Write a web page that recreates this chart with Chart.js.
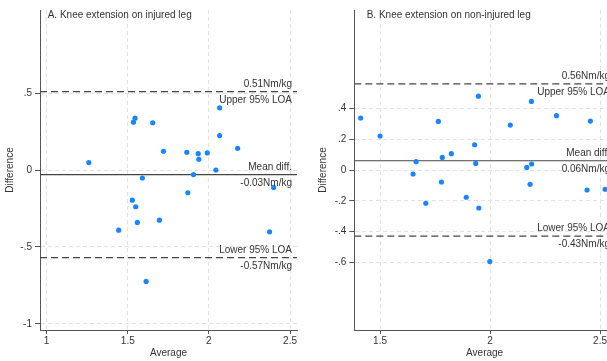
<!DOCTYPE html>
<html>
<head>
<meta charset="utf-8">
<script src="https://cdn.jsdelivr.net/npm/chart.js@4.4.1/dist/chart.umd.min.js"></script>
<style>
    html, body { margin: 0; padding: 0; background: #fff; overflow: hidden; width: 607px; height: 361px; }
    #wrap-a { position: absolute; left: 0; top: 0; width: 303px; height: 361px; }
    #wrap-b { position: absolute; left: 300px; top: 0; width: 322px; height: 361px; }
</style>
</head>
<body>
<div id="wrap-a"><canvas id="chart-a" width="303" height="361"></canvas></div>
<div id="wrap-b"><canvas id="chart-b" width="322" height="361"></canvas></div>
<script>
// A. injured leg
const injuredAvg  = [1.26, 1.535, 1.545, 1.654, 1.72, 1.864, 1.934, 1.938, 1.99, 2.066, 2.066, 2.177, 2.043, 1.905, 1.59,
                     2.399, 1.87, 1.528, 1.549, 1.559, 1.695, 1.444, 2.374, 1.613];
const injuredDiff = [0.048, 0.311, 0.337, 0.307, 0.122, 0.115, 0.106, 0.07, 0.111, 0.404, 0.224, 0.141, 0.0, -0.03, -0.052,
                     -0.113, -0.148, -0.196, -0.239, -0.341, -0.326, -0.391, -0.402, -0.724];
const injuredLimits = [0.51, -0.03, -0.57];
const injuredXTicks = [1, 1.5, 2, 2.5];
const injuredYTicks = [-1, -0.5, 0, 0.5];

// B. non-injured leg
const nonInjuredAvg  = [1.412, 1.5, 1.664, 1.65, 1.765, 1.783, 1.824, 1.93, 1.935, 1.947, 2.092, 2.188, 2.167, 2.189, 2.302, 2.456,
                        1.779, 1.708, 1.892, 1.949, 2.182, 2.441, 2.523, 1.999];
const nonInjuredDiff = [0.338, 0.221, 0.054, -0.026, 0.316, 0.082, 0.106, 0.164, 0.043, 0.48, 0.292, 0.446, 0.017, 0.039, 0.353, 0.318,
                        -0.078, -0.216, -0.177, -0.247, -0.093, -0.13, -0.125, -0.595];
const nonInjuredLimits = [0.56, 0.06, -0.43];
const nonInjuredXTicks = [1.5, 2, 2.5];
const nonInjuredYTicks = [-0.6, -0.4, -0.2, 0, 0.2, 0.4];

const family = "'Liberation Sans', Arial, sans-serif";
const textColor = "#333";
const axisColor = "#555";
const pointColor = "#1a85ff";

function fmt(v) {
    if (v === 0) return "0";
    return String(v).replace(/^(-?)0\./, "$1.");
}

function nm(v) {
    return v.toFixed(2) + "Nm/kg";
}

const labelPlugin = {
    id: "loaLabels",
    afterDatasetsDraw(chart, args, opts) {
        const { ctx, chartArea, scales } = chart;
        ctx.save();
        ctx.font = "10px " + family;
        ctx.fillStyle = textColor;
        ctx.textBaseline = "middle";
        ctx.textAlign = "left";
        ctx.fillText(opts.title, chartArea.left + opts.titleOffset, chartArea.top + 5);
        ctx.textAlign = "right";
        const xr = chartArea.right - 5;
        const above = [nm(opts.limits[0]), "Mean diff.", "Lower 95% LOA"];
        const below = ["Upper 95% LOA", nm(opts.limits[1]), nm(opts.limits[2])];
        opts.limits.forEach((v, i) => {
            const y = scales.y.getPixelForValue(v);
            ctx.fillText(above[i], xr, y - 7.5);
            ctx.fillText(below[i], xr, y + 8.5);
        });
        ctx.restore();
    }
};

function limitLine(v, xMin, xMax, dashed) {
    return {
        data: [{ x: xMin, y: v }, { x: xMax, y: v }],
        showLine: true,
        borderColor: "#444",
        borderWidth: 1.2,
        borderDash: dashed ? [7, 4] : [],
        pointRadius: 0,
        order: 1
    };
}

function buildChart(id, cfg) {
    const ctx = document.getElementById(id).getContext("2d");
    return new Chart(ctx, {
        type: "scatter",
        data: {
            datasets: [
                {
                    data: cfg.avg.map((a, i) => ({ x: a, y: cfg.diff[i] })),
                    backgroundColor: pointColor,
                    borderWidth: 0,
                    pointRadius: 2.6,
                    order: 0
                },
                limitLine(cfg.limits[0], cfg.xMin, cfg.xMax, true),
                limitLine(cfg.limits[1], cfg.xMin, cfg.xMax, false),
                limitLine(cfg.limits[2], cfg.xMin, cfg.xMax, true)
            ]
        },
        options: {
            responsive: false,
            animation: false,
            layout: { padding: { top: 10, right: cfg.padRight, left: cfg.padLeft, bottom: 0 } },
            plugins: {
                legend: { display: false },
                tooltip: { enabled: false },
                loaLabels: { title: cfg.title, titleOffset: cfg.titleOffset, limits: cfg.limits }
            },
            scales: {
                x: {
                    type: "linear",
                    min: cfg.xMin,
                    max: cfg.xMax,
                    afterBuildTicks: ax => { ax.ticks = cfg.xTicks.map(v => ({ value: v })); },
                    afterFit: ax => { ax.height = 31; },
                    grid: { color: "#e2e2e2", lineWidth: 1, tickColor: axisColor, tickLength: 4, tickBorderDash: [] },
                    border: { display: true, color: axisColor, width: 1, dash: [4, 3] },
                    ticks: { color: textColor, font: { size: 10, family }, padding: 1, maxRotation: 0, autoSkip: false, callback: v => fmt(v) },
                    title: { display: true, text: "Average", color: textColor, font: { size: 10, family }, padding: { top: 0, bottom: 2 } }
                },
                y: {
                    type: "linear",
                    min: -1.04,
                    max: 1.04,
                    afterBuildTicks: ax => { ax.ticks = cfg.yTicks.map(v => ({ value: v })); },
                    afterFit: ax => { ax.width = cfg.yWidth; },
                    grid: { color: "#e2e2e2", lineWidth: 1, tickColor: axisColor, tickLength: 5, tickBorderDash: [] },
                    border: { display: true, color: axisColor, width: 1, dash: [4, 3] },
                    ticks: { color: textColor, font: { size: 10, family }, padding: 3, autoSkip: false, callback: v => fmt(v) },
                    title: { display: true, text: "Difference", color: textColor, font: { size: 10, family }, padding: { top: 4, bottom: 4 } }
                }
            }
        },
        plugins: [labelPlugin]
    });
}

buildChart("chart-a", {
    avg: injuredAvg, diff: injuredDiff, limits: injuredLimits,
    xTicks: injuredXTicks, yTicks: injuredYTicks,
    xMin: 0.959, xMax: 2.543,
    title: "A. Knee extension on injured leg", titleOffset: 7.7,
    padLeft: 0, padRight: 6, yWidth: 40
});

buildChart("chart-b", {
    avg: nonInjuredAvg, diff: nonInjuredDiff, limits: nonInjuredLimits,
    xTicks: nonInjuredXTicks, yTicks: nonInjuredYTicks,
    xMin: 1.383, xMax: 2.568,
    title: "B. Knee extension on non-injured leg", titleOffset: 12.4,
    padLeft: 13, padRight: 7, yWidth: 41.3
});
</script>
</body>
</html>
